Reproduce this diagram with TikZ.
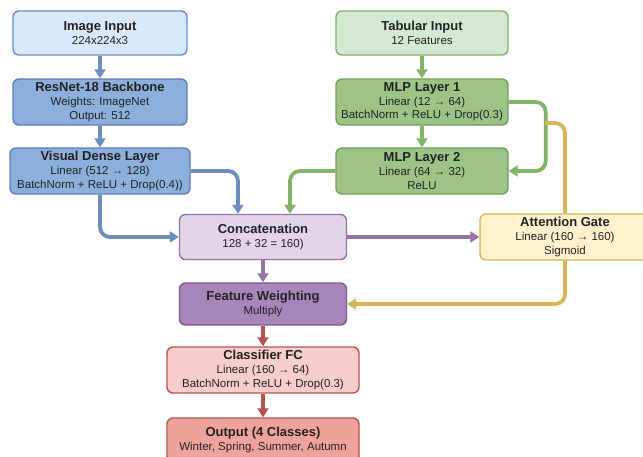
\documentclass[tikz,border=0pt]{standalone}
\usepackage{fontspec}
\setmainfont{Liberation Sans}
\usetikzlibrary{arrows.meta, positioning}
\definecolor{imgfill}{HTML}{DAE8FC}
\definecolor{imgdraw}{HTML}{6C8EBF}
\definecolor{cnnfill}{HTML}{8CAFDC}
\definecolor{cnndraw}{HTML}{5B7FB0}
\definecolor{tabfill}{HTML}{D5E8D4}
\definecolor{tabdraw}{HTML}{82B366}
\definecolor{mlpfill}{HTML}{9CC487}
\definecolor{mlpdraw}{HTML}{6E9E56}
\definecolor{catfill}{HTML}{E1D5E7}
\definecolor{catdraw}{HTML}{9673A6}
\definecolor{fwfill}{HTML}{A886BC}
\definecolor{fwdraw}{HTML}{7A5A90}
\definecolor{attfill}{HTML}{FFF2CC}
\definecolor{attdraw}{HTML}{D6B656}
\definecolor{clsfill}{HTML}{F8CECC}
\definecolor{clsdraw}{HTML}{B85450}
\definecolor{outfill}{HTML}{EFA39C}
\definecolor{txtdark}{HTML}{222222}
\newcommand{\lyrtitle}[1]{{\fontsize{13}{14}\selectfont\bfseries #1}}

\begin{document}
\begin{tikzpicture}[
  x=1pt, y=-1pt,
  >={Triangle[length=9pt, width=11pt]},
  layer/.style 2 args={
    draw=#1, line width=1.4pt, fill=#2, rounded corners=6pt,
    minimum width=174pt, minimum height=44pt, text=txtdark,
    font=\fontsize{11.5}{13.6}\selectfont, align=center, inner sep=1.5pt
  },
  arr/.style={->, line width=3.8pt, rounded corners=10pt},
]

% Canvas
\useasboundingbox[fill=white] (0,0) rectangle (643,456);

% =============================================
% LEFT: image branch
% =============================================
\node[layer={imgdraw}{imgfill}] (img) at (100,33)
  {\lyrtitle{Image Input}\\224x224x3};
\node[layer={cnndraw}{cnnfill}, minimum height=46pt] (resnet) at (100,102)
  {\lyrtitle{ResNet-18 Backbone}\\Weights: ImageNet\\Output: 512};
\node[layer={cnndraw}{cnnfill}, minimum width=180pt, minimum height=46pt] (visual) at (100,171)
  {\lyrtitle{Visual Dense Layer}\\Linear (512 → 128)\\BatchNorm + ReLU + Drop(0.4))};

\draw[arr, imgdraw] (img.south) -- (resnet.north);
\draw[arr, imgdraw] (resnet.south) -- (visual.north);

% =============================================
% RIGHT: tabular branch
% =============================================
\node[layer={tabdraw}{tabfill}, minimum width=172pt] (tab) at (422,33)
  {\lyrtitle{Tabular Input}\\12 Features};
\node[layer={mlpdraw}{mlpfill}, minimum width=172pt, minimum height=46pt] (mlp1) at (422,102)
  {\lyrtitle{MLP Layer 1}\\Linear (12 → 64)\\BatchNorm + ReLU + Drop(0.3)};
\node[layer={mlpdraw}{mlpfill}, minimum width=172pt, minimum height=46pt] (mlp2) at (422,171)
  {\lyrtitle{MLP Layer 2}\\Linear (64 → 32)\\ReLU};

\draw[arr, tabdraw] (tab.south) -- (mlp1.north);
\draw[arr, tabdraw] (mlp1.south) -- (mlp2.north);
\draw[arr, tabdraw] (mlp1.east) -- ++(37,0) |- (mlp2.east);

% =============================================
% MIDDLE: fusion
% =============================================
\node[layer={catdraw}{catfill}, minimum width=167pt, minimum height=45pt] (concat) at (263,237)
  {\lyrtitle{Concatenation}\\128 + 32 = 160)};
\node[layer={attdraw}{attfill}, minimum width=170pt, minimum height=46pt] (att) at (565,237)
  {\lyrtitle{Attention Gate}\\Linear (160 → 160)\\Sigmoid};
\node[layer={fwdraw}{fwfill}, minimum width=167pt, minimum height=42pt] (fw) at (263,304)
  {\lyrtitle{Feature Weighting}\\Multiply};

% branches -> concatenation
\draw[arr, imgdraw] (visual.east) -| ([xshift=-25pt]concat.north);
\draw[arr, imgdraw] (visual.south) |- (concat.west);
\draw[arr, tabdraw] (mlp2.west) -| ([xshift=27pt]concat.north);

% concatenation -> gate, weighting
\draw[arr, catdraw] (concat.east) -- (att.west);
\draw[arr, catdraw] (concat.south) -- (fw.north);

% gate feed (taps the MLP side line) and gate -> weighting
\coordinate (tap) at (545,123);
\draw[line width=3.8pt, attdraw, rounded corners=10pt] (tap) -| (att.north);
\draw[arr, attdraw] (att.south) |- (fw.east);

% =============================================
% BOTTOM: classifier head
% =============================================
\node[layer={clsdraw}{clsfill}, minimum width=192pt, minimum height=46pt] (cls) at (263,370)
  {\lyrtitle{Classifier FC}\\Linear (160 → 64)\\BatchNorm + ReLU + Drop(0.3)};
\node[layer={clsdraw}{outfill}, minimum width=192pt] (out) at (263,440)
  {\lyrtitle{Output (4 Classes)}\\Winter, Spring, Summer, Autumn};

\draw[arr, clsdraw] (fw.south) -- (cls.north);
\draw[arr, clsdraw] (cls.south) -- (out.north);

\end{tikzpicture}
\end{document}
